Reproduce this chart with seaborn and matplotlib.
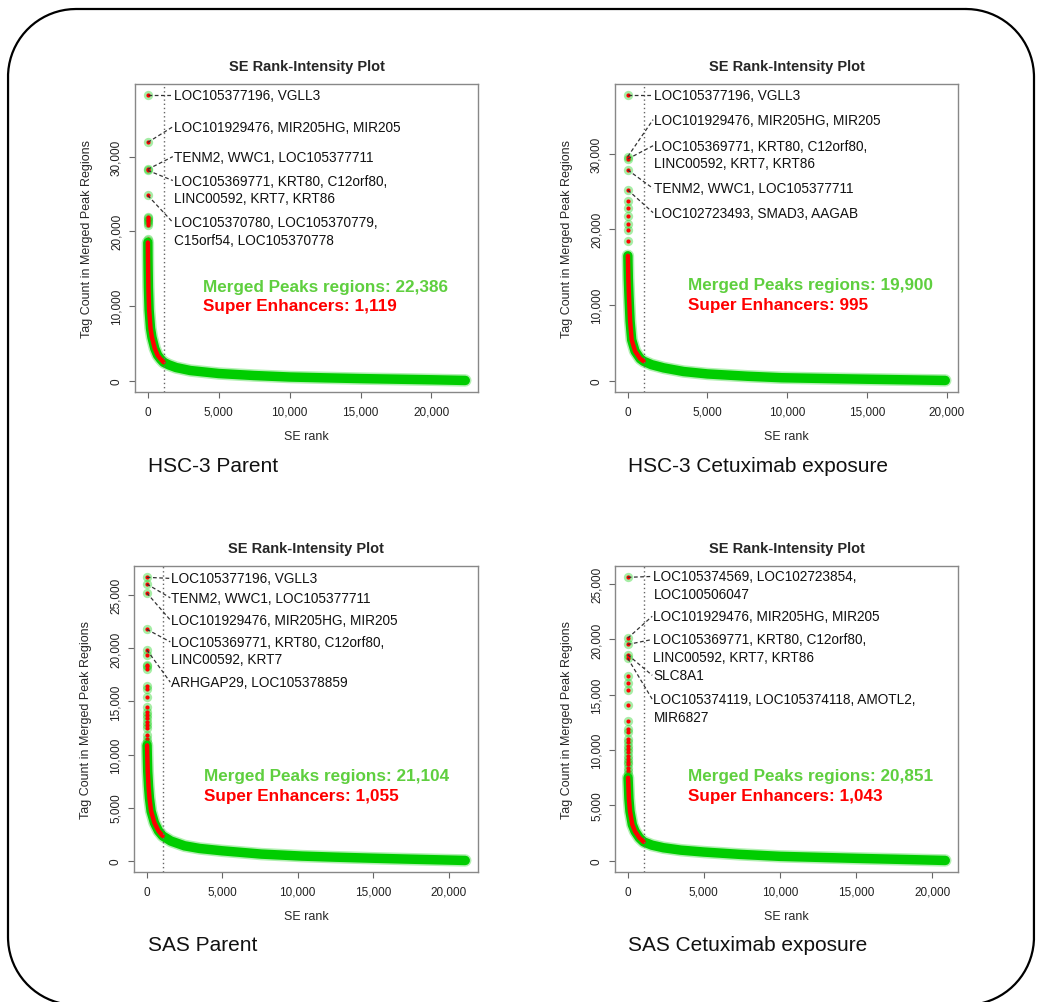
import numpy as np
import matplotlib
matplotlib.use("Agg")
import matplotlib.pyplot as plt
from matplotlib.ticker import FuncFormatter
import seaborn as sns

sns.set_theme(style="white")
plt.rcParams['font.family'] = ['Liberation Sans', 'DejaVu Sans']

GREEN = "#00cd00"
TXT_GREEN = "#5fcf3f"
RED = "#ff0000"

# ---- data ----
names = ["HSC-3 Parent", "HSC-3 Cetuximab exposure", "SAS Parent", "SAS Cetuximab exposure"]
n_regions = [22386, 19900, 21104, 20851]
n_se = [1119, 995, 1055, 1043]

# top-ranked (discrete) points, rank 1..k
top1 = [38200, 31900, 28300, 28150, 24800, 21900, 21750, 21550, 21350, 21150, 20900, 19000]
top2 = [37700, 29600, 29300, 27850, 25200, 23800, 22800, 21700, 20700, 19950, 18400]
top3 = [26700, 26070, 25230, 21800, 19870, 19380, 18470, 18300, 18070, 16500, 16200,
        15420, 14490, 14000, 13700, 13400, 13100, 12800, 12460, 11840, 11500, 11200]
top4 = [25620, 20120, 19550, 18620, 18300, 16670, 16100, 15400, 14110, 12610, 11950,
        11650, 11000, 10700, 10400, 10100, 9800, 9500, 9200, 8950, 8700, 8400, 8100, 7800]

# rest of the ranked curve (rank, tag count)
rank1 = [13, 20, 30, 50, 100, 200, 300, 500, 700, 900, 1119, 1500, 2000, 3000, 5000,
         7500, 10000, 12500, 15000, 17500, 20000, 22386]
val1 = [18500, 16500, 15000, 12500, 9500, 7000, 5800, 4300, 3400, 2900, 2450, 2100, 1750,
        1350, 950, 680, 480, 370, 270, 190, 110, 20]
rank2 = [12, 20, 40, 84, 150, 250, 460, 780, 995, 1500, 2260, 3500, 5000, 7500, 9640,
         12500, 15000, 17500, 19900]
val2 = [16500, 15500, 13500, 11000, 7900, 5400, 3900, 2900, 2560, 2100, 1680, 1200, 880,
        575, 380, 270, 180, 100, 20]
rank3 = [23, 40, 67, 120, 180, 290, 510, 780, 1055, 1600, 2500, 3500, 5000, 7600, 10300,
         12500, 15000, 17500, 21104]
val3 = [10870, 9800, 8400, 7000, 5900, 4660, 3570, 2800, 2330, 1850, 1400, 1150, 930, 620,
        430, 330, 230, 140, 20]
rank4 = [25, 44, 80, 150, 305, 480, 765, 1043, 1600, 2340, 3500, 5000, 7360, 10000, 12500,
         15000, 17500, 20851]
val4 = [7500, 6860, 5600, 4460, 3260, 2660, 2070, 1700, 1400, 1170, 950, 780, 570, 390, 300,
        210, 130, 20]

# gene labels: text and label y; label j points to the point of rank j+1
labels1 = ["LOC105377196, VGLL3", "LOC101929476, MIR205HG, MIR205", "TENM2, WWC1, LOC105377711",
           "LOC105369771, KRT80, C12orf80,\nLINC00592, KRT7, KRT86",
           "LOC105370780, LOC105370779,\nC15orf54, LOC105370778"]
label_y1 = [38200, 34000, 30000, 26800, 21200]
labels2 = ["LOC105377196, VGLL3", "LOC101929476, MIR205HG, MIR205",
           "LOC105369771, KRT80, C12orf80,\nLINC00592, KRT7, KRT86",
           "TENM2, WWC1, LOC105377711", "LOC102723493, SMAD3, AAGAB"]
label_y2 = [37700, 34500, 31050, 25400, 22200]
labels3 = ["LOC105377196, VGLL3", "TENM2, WWC1, LOC105377711", "LOC101929476, MIR205HG, MIR205",
           "LOC105369771, KRT80, C12orf80,\nLINC00592, KRT7", "ARHGAP29, LOC105378859"]
label_y3 = [26600, 24770, 22680, 20620, 16820]
labels4 = ["LOC105374569, LOC102723854,\nLOC100506047", "LOC101929476, MIR205HG, MIR205",
           "LOC105369771, KRT80, C12orf80,\nLINC00592, KRT7, KRT86", "SLC8A1",
           "LOC105374119, LOC105374118, AMOTL2,\nMIR6827"]
label_y4 = [25700, 22100, 20000, 16760, 14600]
label_x = [1850, 1670, 1640, 1690]

panels = [(top1, rank1, val1, labels1, label_y1), (top2, rank2, val2, labels2, label_y2),
          (top3, rank3, val3, labels3, label_y3), (top4, rank4, val4, labels4, label_y4)]
yticks_all = [[0, 10000, 20000, 30000], [0, 10000, 20000, 30000],
              [0, 5000, 10000, 15000, 20000, 25000], [0, 5000, 10000, 15000, 20000, 25000]]

# layout in pixels (left, top, right, bottom)
W, H = 1040, 1003
boxes = [(135, 85, 478, 393), (615, 85, 958, 393), (134, 567, 478, 873), (615, 567, 958, 873)]
caption_xy = [(148, 466), (628, 466), (148, 946), (628, 946)]
stat_pos = [(0.198, 0.344), (0.213, 0.348), (0.203, 0.314), (0.213, 0.314)]

fig = plt.figure(figsize=(W / 100, H / 100), dpi=100)
bg = fig.add_axes([0, 0, 1, 1])
bg.set_xlim(0, W); bg.set_ylim(H, 0); bg.axis("off")

# rounded outer frame, built from straight segments
def rounded_frame(x0, y0, x1, y1, rad, n=40):
    pts = []
    for cx, cy, a0 in [(x1 - rad, y0 + rad, -90), (x1 - rad, y1 - rad, 0),
                       (x0 + rad, y1 - rad, 90), (x0 + rad, y0 + rad, 180)]:
        a = np.deg2rad(np.linspace(a0, a0 + 90, n))
        pts += list(zip(cx + rad * np.cos(a), cy + rad * np.sin(a)))
    pts.append(pts[0])
    return np.array(pts)

frame = rounded_frame(8, 10, 1034, 1006, 68)
bg.plot(frame[:, 0], frame[:, 1], color="black", lw=1.6, clip_on=False)

comma = FuncFormatter(lambda v, p: f"{int(v):,}")

for i, (top, rk, vl, labs, laby) in enumerate(panels):
    l, t, r, b = boxes[i]
    ax = fig.add_axes([l / W, 1 - b / H, (r - l) / W, (b - t) / H])
    n, se = n_regions[i], n_se[i]
    top_rank = np.arange(1, len(top) + 1)
    rk = np.array(rk); vl = np.array(vl)

    # curve band
    sns.lineplot(x=rk, y=vl, ax=ax, color=GREEN, lw=9, alpha=0.3, sort=True)
    sns.lineplot(x=rk, y=vl, ax=ax, color=GREEN, lw=6.8, sort=True, solid_capstyle="round")
    m = rk <= se
    sns.lineplot(x=rk[m], y=vl[m], ax=ax, color=RED, lw=3.2, sort=True, solid_capstyle="round")
    # discrete top points
    sns.scatterplot(x=top_rank, y=top, ax=ax, color=GREEN, alpha=0.35, s=45, linewidth=0)
    sns.scatterplot(x=top_rank, y=top, ax=ax, color=RED, s=9, linewidth=0)

    ax.axvline(se, color="#666666", ls=(0, (1, 2)), lw=1)

    # gene labels
    lx = label_x[i]
    for j, (txt, ly) in enumerate(zip(labs, laby)):
        ax.plot([top_rank[j], lx - 80], [top[j], ly], color="#333333", lw=0.9, ls=(0, (3, 2)))
        for k, line in enumerate(txt.split("\n")):
            ax.annotate(line, xy=(lx, ly), xytext=(0, -12.5 * k), textcoords="offset points",
                        ha="left", va="center", fontsize=9.8, color="#111111")

    ymax = max(top)
    ax.set_xlim(1 - 0.04 * (n - 1), n + 0.04 * (n - 1))
    ax.set_ylim(-0.04 * ymax, ymax * 1.04)
    ax.set_xticks([0, 5000, 10000, 15000, 20000])
    ax.set_yticks(yticks_all[i])
    ax.xaxis.set_major_formatter(comma)
    ax.yaxis.set_major_formatter(comma)
    ax.tick_params(axis="both", direction="out", length=4, width=0.8, color="#666666",
                   labelsize=8.5, labelcolor="#222222", bottom=True, left=True)
    ax.tick_params(axis="x", pad=6)
    ax.tick_params(axis="y", pad=5, labelrotation=90)
    for lab in ax.get_yticklabels():
        lab.set_va("center")
    for s in ax.spines.values():
        s.set_color("#888888"); s.set_linewidth(1)

    ax.set_title("SE Rank-Intensity Plot", fontsize=10.5, fontweight="bold", pad=10)
    ax.set_xlabel("SE rank", fontsize=9)
    ax.set_ylabel("Tag Count in Merged Peak Regions", fontsize=9)
    ax.xaxis.set_label_coords(0.5, -0.125)
    ax.yaxis.set_label_coords(-0.122, 0.5)

    sx, sy = stat_pos[i]
    ax.text(sx, sy, f"Merged Peaks regions: {n:,}", transform=ax.transAxes, color=TXT_GREEN,
            fontsize=12.3, fontweight="bold", va="center", ha="left")
    ax.text(sx, sy - 0.063, f"Super Enhancers: {se:,}", transform=ax.transAxes, color=RED,
            fontsize=12.3, fontweight="bold", va="center", ha="left")

    cx, cy = caption_xy[i]
    bg.text(cx, cy, names[i], fontsize=15, ha="left", va="center", color="#111111")

fig.savefig("out.png", dpi=100)
